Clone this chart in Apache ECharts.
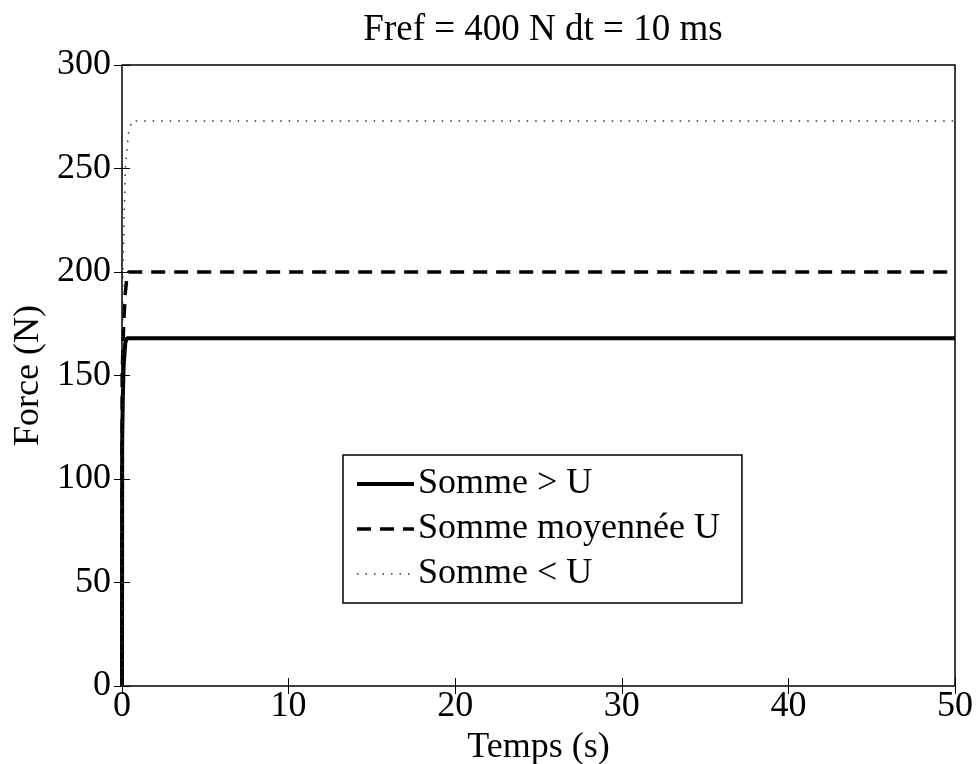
<!DOCTYPE html>
<html>
<head>
<meta charset="utf-8">
<script src="https://cdn.jsdelivr.net/npm/echarts@6/dist/echarts.min.js"></script>
<style>
  html, body { margin: 0; padding: 0; background: #fff; }
  #chart { width: 978px; height: 764px; }
</style>
</head>
<body>
<div id="chart"></div>
<script>
// temps (s) / force (N)
const titleText = 'Fref = 400 N dt = 10 ms';
const seriesNames = ['Somme > U', 'Somme moyennée U', 'Somme < U'];
const sommeSup = [[0, 0], [0.01, 118], [0.05, 140], [0.1, 155], [0.2, 166], [0.3, 168], [50, 168]];
const sommeMoy = [[0, 0], [0.01, 150], [0.1, 175], [0.2, 190], [0.3, 198], [0.4, 200], [50, 200]];
const sommeInf = [[0, 0], [0.05, 200], [0.2, 250], [0.4, 268], [0.6, 273], [50, 273]];
const xTicks = [0, 10, 20, 30, 40, 50];
const yTicks = [0, 50, 100, 150, 200, 250, 300];

const font = 'Liberation Serif, Times New Roman, serif';
const chart = echarts.init(document.getElementById('chart'));

const hiddenAxis = {
  axisLine: { show: false },
  axisTick: { show: true, inside: true, length: 8, lineStyle: { color: '#000' } },
  axisLabel: { show: false },
  splitLine: { show: false }
};

chart.setOption({
  animation: false,
  backgroundColor: '#fff',
  title: {
    text: titleText,
    left: 538, top: 7, textAlign: 'center',
    textStyle: { fontFamily: font, fontSize: 37, fontWeight: 'normal', color: '#000' }
  },
  grid: {
    left: 122, right: 23, top: 65, bottom: 78,
    outerBoundsMode: 'none', containLabel: false,
    show: true, borderColor: '#000', borderWidth: 1.5, backgroundColor: '#fff'
  },
  legend: {
    orient: 'vertical',
    left: 343, top: 455,
    padding: [11, 22, 11, 12],
    itemWidth: 57, itemHeight: 14, itemGap: 9,
    backgroundColor: '#fff',
    borderColor: '#000', borderWidth: 1.5,
    itemStyle: { opacity: 0 },
    lineStyle: { width: 'inherit' },
    textStyle: { fontFamily: font, fontSize: 36, color: '#000', padding: [0, 0, 0, -1] },
    data: seriesNames
  },
  xAxis: [{
    type: 'value', min: xTicks[0], max: xTicks[xTicks.length - 1], interval: 10,
    name: 'Temps (s)', nameLocation: 'middle', nameGap: 37,
    nameTextStyle: { fontFamily: font, fontSize: 36, color: '#000' },
    axisLine: { show: false },
    axisTick: { inside: true, length: 8, lineStyle: { color: '#000' } },
    axisLabel: { fontFamily: font, fontSize: 36, color: '#000', margin: 3 },
    splitLine: { show: false }
  }, Object.assign({ type: 'value', position: 'top', min: 0, max: 50, interval: 10 }, hiddenAxis)],
  yAxis: [{
    type: 'value', min: yTicks[0], max: yTicks[yTicks.length - 1], interval: 50,
    name: 'Force (N)', nameLocation: 'middle', nameGap: 64, nameRotate: 90,
    nameTextStyle: { fontFamily: font, fontSize: 36, color: '#000' },
    axisLine: { show: false },
    axisTick: { inside: true, length: 8, lineStyle: { color: '#000' } },
    axisLabel: { fontFamily: font, fontSize: 36, color: '#000', margin: 11, padding: [0, 0, 8, 0] },
    splitLine: { show: false }
  }, Object.assign({ type: 'value', position: 'right', min: 0, max: 300, interval: 50 }, hiddenAxis)],
  series: [
    {
      name: seriesNames[0], type: 'line', data: sommeSup, symbol: 'none',
      itemStyle: { color: '#000' },
      lineStyle: { color: '#000', width: 4, type: 'solid' }
    },
    {
      name: seriesNames[1], type: 'line', data: sommeMoy, symbol: 'none',
      itemStyle: { color: '#000' },
      lineStyle: { color: '#000', width: 3.5, type: [14, 9] }
    },
    {
      name: seriesNames[2], type: 'line', data: sommeInf, symbol: 'none',
      itemStyle: { color: '#000' },
      lineStyle: { color: '#333', width: 1.5, type: [1.5, 7] }
    }
  ]
});
</script>
</body>
</html>
